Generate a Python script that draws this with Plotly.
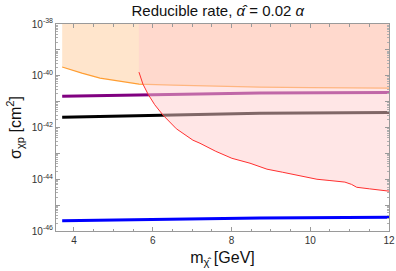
import plotly.graph_objects as go

# Data (x in GeV, y in cm^2)
orange_x = [3.70, 4.20, 4.66, 5.20, 5.65, 6.51, 7.50, 8.72, 10.0, 11.0, 12.0]
orange_y = [10**-39.66, 10**-39.90, 10**-40.09, 10**-40.22, 10**-40.32, 10**-40.36, 10**-40.40, 10**-40.44, 10**-40.46, 10**-40.47, 10**-40.48]

red_x = [5.65, 5.75, 5.88, 6.05, 6.26, 6.60, 7.02, 7.20, 7.60, 8.01, 8.47, 8.90, 9.30, 9.99, 10.17, 10.50, 10.88, 11.05, 11.18, 11.50, 11.89, 12.0]
red_y = [10**-39.86, 10**-40.32, 10**-40.71, 10**-41.12, 10**-41.52, 10**-42.05, 10**-42.49, 10**-42.61, 10**-42.92, 10**-43.19, 10**-43.38, 10**-43.61, 10**-43.73, 10**-43.96, 10**-44.00, 10**-44.05, 10**-44.11, 10**-44.20, 10**-44.31, 10**-44.37, 10**-44.42, 10**-44.46]

line_x = [3.70, 6.26, 8.72, 12.0]
purple_y = [10**-40.79, 10**-40.72, 10**-40.67, 10**-40.65]
black_y = [10**-41.60, 10**-41.52, 10**-41.45, 10**-41.42]
blue_y = [10**-45.60, 10**-45.54, 10**-45.50, 10**-45.47]

y_top = 1e-38
ytick_vals = [10.0**e for e in range(-46, -37)]
ytick_text = ["10<sup>%d</sup>" % e if e % 2 == 0 else "" for e in range(-46, -37)]
xtick_vals = [4, 6, 8, 10, 12]

fig = go.Figure()

# lines (drawn first so that the fills fade them)
fig.add_trace(go.Scatter(x=orange_x, y=orange_y, mode="lines", line=dict(color="#ff9f33", width=1.2), showlegend=False))
fig.add_trace(go.Scatter(x=line_x, y=purple_y, mode="lines", line=dict(color="#800080", width=3), showlegend=False))
fig.add_trace(go.Scatter(x=line_x, y=black_y, mode="lines", line=dict(color="#000000", width=3), showlegend=False))
fig.add_trace(go.Scatter(x=line_x, y=blue_y, mode="lines", line=dict(color="#0000ff", width=3), showlegend=False))

# orange excluded region
fig.add_trace(go.Scatter(x=orange_x + [orange_x[-1], orange_x[0]],
                         y=orange_y + [y_top, y_top],
                         mode="lines", line=dict(width=0), fill="toself",
                         fillcolor="rgba(255,153,51,0.25)", showlegend=False, hoverinfo="skip"))
# red excluded region
fig.add_trace(go.Scatter(x=red_x + [red_x[-1], red_x[0]],
                         y=red_y + [y_top, y_top],
                         mode="lines", line=dict(width=0), fill="toself",
                         fillcolor="rgba(255,205,205,0.5)", showlegend=False, hoverinfo="skip"))
fig.add_trace(go.Scatter(x=red_x, y=red_y, mode="lines", line=dict(color="#ff3030", width=1), showlegend=False))

axis_common = dict(showline=True, linecolor="#9a9a9a", linewidth=1, mirror="ticks",
                   ticks="inside", tickcolor="#9a9a9a", showgrid=False, zeroline=False,
                   automargin=False,
                   tickfont=dict(family="Liberation Sans, Arial", size=10, color="#333333"))

fig.update_xaxes(range=[3.543, 12], tickmode="array", tickvals=xtick_vals, ticklen=4,
                 minor=dict(ticks="inside", dtick=0.5, ticklen=2.5, tickcolor="#9a9a9a"),
                 title=dict(text="m<sub>χ̂</sub> [GeV]", font=dict(family="Liberation Sans, Arial", size=16, color="#111"), standoff=6),
                 **axis_common)
fig.update_yaxes(type="log", range=[-46, -38], tickmode="array", tickvals=ytick_vals, ticktext=ytick_text, ticklen=4,
                 minor=dict(ticks="inside", dtick="D1", ticklen=2, tickcolor="#b0b0b0"),
                 title=dict(text="σ<sub>χp</sub> [cm<sup>2</sup>]", font=dict(family="Liberation Sans, Arial", size=16, color="#111"), standoff=6),
                 **axis_common)

fig.update_layout(
    width=396, height=271,
    margin=dict(l=56, r=7, t=24, b=40),
    paper_bgcolor="white", plot_bgcolor="white",
    title=dict(text="Reducible rate, <i>α̂</i> = 0.02 <i>α</i>", x=0.55, xanchor="center", y=0.96, yanchor="middle",
               automargin=False,
               font=dict(family="Liberation Sans, Arial", size=15, color="#111")),
)

fig.write_html("out.html", config={"displayModeBar": False},
               post_script="document.body.style.margin='0';document.body.style.overflow='hidden';")
